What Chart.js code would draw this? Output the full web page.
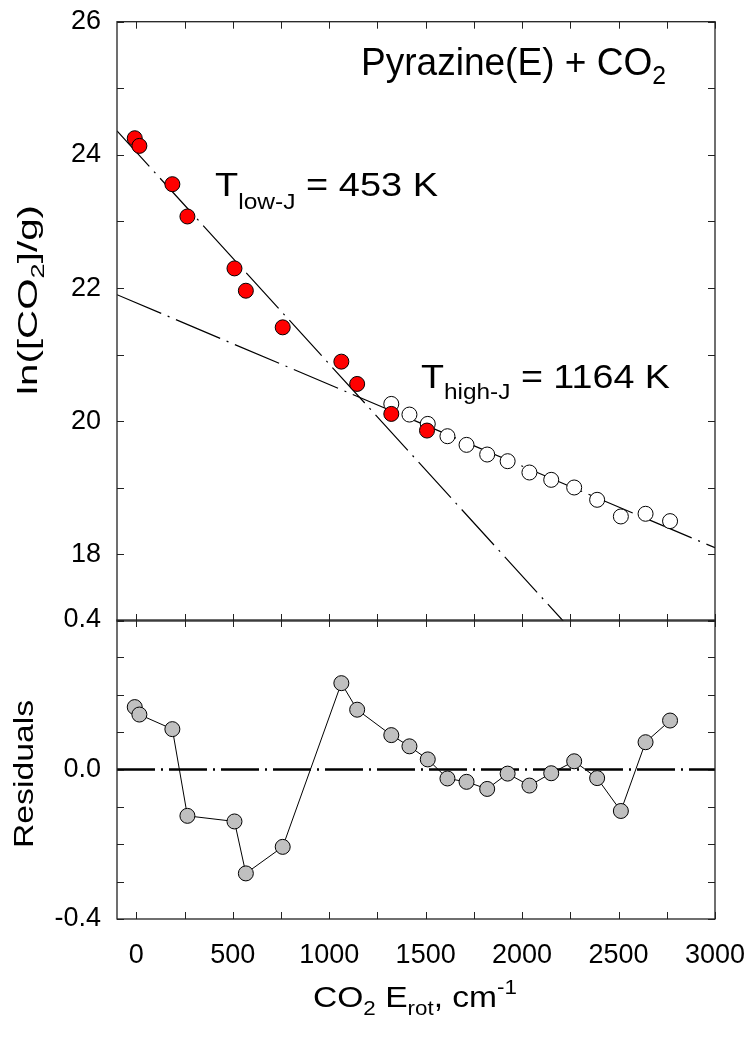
<!DOCTYPE html>
<html>
<head>
<meta charset="utf-8">
<script src="https://cdn.jsdelivr.net/npm/chart.js@4.4.1/dist/chart.umd.min.js"></script>
<style>
  body { margin: 0; background: #fff; }
  #wrap { position: relative; width: 753px; height: 1050px; }
  canvas { position: absolute; left: 0; top: 0; }
</style>
</head>
<body>
<div id="wrap">
  <canvas id="topChart" width="753" height="1050"></canvas>
  <canvas id="resChart" width="753" height="1050"></canvas>
</div>
<script>
// low-J points (red)
const lowJx = [-8, 16, 187, 265, 509, 568, 759, 1063, 1145, 1322, 1507];
const lowJy = [24.25, 24.135, 23.56, 23.075, 22.295, 21.96, 21.41, 20.895, 20.56, 20.11, 19.86];

// high-J points (open)
const highJx = [1322, 1416, 1511, 1613, 1712, 1819, 1925, 2038, 2151, 2270, 2389, 2512, 2640, 2767];
const highJy = [20.26, 20.10, 19.96, 19.775, 19.645, 19.50, 19.40, 19.23, 19.12, 19.005, 18.82, 18.57, 18.61, 18.50];

// fit lines, end points
const lowFitX = [-100, 2213];
const lowFitY = [24.36, 17.0];
const highFitX = [-100, 3000];
const highFitY = [21.9, 18.1];

// residuals
const resX = [-8, 16, 187, 265, 509, 568, 759, 1063, 1145, 1322, 1416, 1511, 1613, 1712, 1819, 1925, 2038, 2151, 2270, 2389, 2512, 2640, 2767];
const resY = [0.167, 0.147, 0.108, -0.124, -0.139, -0.278, -0.207, 0.231, 0.160, 0.092, 0.062, 0.027, -0.024, -0.033, -0.052, -0.011, -0.043, -0.010, 0.022, -0.023, -0.111, 0.073, 0.131];
const zeroX = [-100, 3000];
const zeroY = [0, 0];

// ticks
const xLabels = [0, 500, 1000, 1500, 2000, 2500, 3000];
const xTickMarks = [0, 250, 500, 750, 1000, 1250, 1500, 1750, 2000, 2250, 2500, 2750, 3000];
const yLabelsTop = [18, 20, 22, 24, 26];
const yTickMarksTop = [17, 18, 19, 20, 21, 22, 23, 24, 25, 26];
const yLabelsRes = [-0.4, 0.0, 0.4];
const yTickMarksRes = [-0.4, -0.3, -0.2, -0.1, 0, 0.1, 0.2, 0.3, 0.4];

const FONT = "'Liberation Sans', Arial, sans-serif";
const pts = (xs, ys) => xs.map((x, i) => ({ x: x, y: ys[i] }));

function framePlugin(yMarks) {
    return {
        id: 'frame',
        afterDatasetsDraw(chart) {
            const { ctx, chartArea: a, scales: { x, y } } = chart;
            ctx.save();
            ctx.strokeStyle = '#222';
            ctx.lineWidth = 1;
            ctx.beginPath();
            xTickMarks.forEach(v => {
                const px = Math.round(x.getPixelForValue(v)) + 0.5;
                ctx.moveTo(px, a.top); ctx.lineTo(px, a.top + 7);
                ctx.moveTo(px, a.bottom); ctx.lineTo(px, a.bottom - 7);
            });
            yMarks.forEach(v => {
                const py = Math.round(y.getPixelForValue(v)) + 0.5;
                ctx.moveTo(a.left, py); ctx.lineTo(a.left + 7, py);
                ctx.moveTo(a.right, py); ctx.lineTo(a.right - 7, py);
            });
            ctx.stroke();
            ctx.lineWidth = 1.3;
            ctx.strokeRect(a.left, a.top, a.right - a.left, a.bottom - a.top);
            ctx.restore();
        }
    };
}

// draw text made of parts (sub/superscripts), squeezed to a target width
function drawRich(ctx, parts, x, y, width, rot, center) {
    ctx.save();
    ctx.fillStyle = '#000';
    ctx.textBaseline = 'alphabetic';
    ctx.textAlign = 'left';
    let total = 0;
    parts.forEach(p => {
        ctx.font = p.size + 'px ' + FONT;
        p.w = ctx.measureText(p.t).width;
        total += p.w;
    });
    ctx.translate(x, y);
    if (rot) ctx.rotate(rot);
    ctx.scale(width / total, 1);
    let cx = center ? -total / 2 : 0;
    parts.forEach(p => {
        ctx.font = p.size + 'px ' + FONT;
        ctx.fillText(p.t, cx, p.dy || 0);
        cx += p.w;
    });
    ctx.restore();
}

const topLabels = {
    id: 'topLabels',
    afterDraw(chart) {
        const ctx = chart.ctx;
        drawRich(ctx, [{ t: 'Pyrazine(E) + CO', size: 39 }, { t: '2', size: 26, dy: 9 }], 361, 75, 305);
        drawRich(ctx, [{ t: 'T', size: 34 }, { t: 'low-J', size: 22, dy: 13 }, { t: ' = 453 K', size: 34 }], 215, 196, 223);
        drawRich(ctx, [{ t: 'T', size: 34 }, { t: 'high-J', size: 22, dy: 11 }, { t: ' = 1164 K', size: 34 }], 421, 388, 249);
        drawRich(ctx, [{ t: 'ln([CO', size: 28 }, { t: '2', size: 19, dy: 7 }, { t: ']/g)', size: 28 }], 37, 300, 190, -Math.PI / 2, true);
    }
};

const resLabels = {
    id: 'resLabels',
    afterDraw(chart) {
        const ctx = chart.ctx;
        drawRich(ctx, [{ t: 'Residuals', size: 28 }], 33, 774, 148, -Math.PI / 2, true);
        drawRich(ctx, [
            { t: 'CO', size: 30 }, { t: '2', size: 20, dy: 8 }, { t: ' E', size: 30 },
            { t: 'rot', size: 20, dy: 8 }, { t: ', cm', size: 30 }, { t: '-1', size: 20, dy: -13 }
        ], 313, 1007, 204);
    }
};

const tickFont = { family: FONT, size: 27 };
// fixed axis sizes so the plot frames land where the original ones are
const fixY = s => { s.width = 117; s.paddingTop = 0; s.paddingBottom = 0; };
const fixX = s => { s.height = 131; s.paddingLeft = 0; s.paddingRight = 0; };

new Chart(document.getElementById('topChart'), {
    type: 'scatter',
    data: {
        datasets: [
            { label: 'low-J', data: pts(lowJx, lowJy), pointRadius: 7.5, pointBackgroundColor: '#ff0000', pointBorderColor: '#000', pointBorderWidth: 1 },
            { label: 'high-J', data: pts(highJx, highJy), pointRadius: 7.5, pointBackgroundColor: '#fff', pointBorderColor: '#000', pointBorderWidth: 1 },
            { label: 'fit low', data: pts(lowFitX, lowFitY), showLine: true, pointRadius: 0, borderColor: '#000', borderWidth: 1.2, borderDash: [48, 7, 2, 7] },
            { label: 'fit high', data: pts(highFitX, highFitY), showLine: true, pointRadius: 0, borderColor: '#000', borderWidth: 1.2, borderDash: [48, 7, 2, 7] }
        ]
    },
    options: {
        responsive: false,
        animation: false,
        devicePixelRatio: 1,
        layout: { padding: { left: 0, right: 38, top: 21.7, bottom: 429 } },
        plugins: { legend: { display: false }, tooltip: { enabled: false } },
        scales: {
            x: { type: 'linear', min: -100, max: 3000, display: false },
            y: {
                type: 'linear', min: 17, max: 26,
                afterFit: fixY,
                afterBuildTicks: s => { s.ticks = yLabelsTop.map(v => ({ value: v })); },
                grid: { display: false, drawTicks: false },
                border: { display: false },
                ticks: { font: tickFont, color: '#000', padding: 16 }
            }
        }
    },
    plugins: [framePlugin(yTickMarksTop), topLabels]
});

new Chart(document.getElementById('resChart'), {
    type: 'scatter',
    data: {
        datasets: [
            { label: 'residuals', data: pts(resX, resY), showLine: true, borderColor: '#000', borderWidth: 1, pointRadius: 7.5, pointBackgroundColor: '#c0c0c0', pointBorderColor: '#000', pointBorderWidth: 1 },
            { label: 'zero', data: pts(zeroX, zeroY), showLine: true, pointRadius: 0, borderColor: '#000', borderWidth: 2.5, borderDash: [38, 6, 2, 6] }
        ]
    },
    options: {
        responsive: false,
        animation: false,
        devicePixelRatio: 1,
        layout: { padding: { left: 0, right: 38, top: 620, bottom: 0 } },
        plugins: { legend: { display: false }, tooltip: { enabled: false } },
        scales: {
            x: {
                type: 'linear', min: -100, max: 3000,
                afterFit: fixX,
                afterBuildTicks: s => { s.ticks = xLabels.map(v => ({ value: v })); },
                grid: { display: false, drawTicks: false },
                border: { display: false },
                ticks: { font: tickFont, color: '#000', padding: 20, maxRotation: 0, autoSkip: false, callback: v => String(v) }
            },
            y: {
                type: 'linear', min: -0.4, max: 0.4,
                afterFit: fixY,
                afterBuildTicks: s => { s.ticks = yLabelsRes.map(v => ({ value: v })); },
                grid: { display: false, drawTicks: false },
                border: { display: false },
                ticks: { font: tickFont, color: '#000', padding: 16, callback: v => v.toFixed(1) }
            }
        }
    },
    plugins: [framePlugin(yTickMarksRes), resLabels]
});
</script>
</body>
</html>
